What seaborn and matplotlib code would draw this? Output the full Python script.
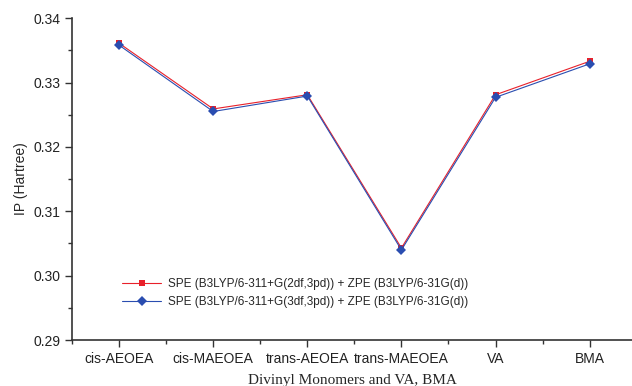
import matplotlib
matplotlib.use("Agg")
import matplotlib.pyplot as plt
from matplotlib.ticker import MultipleLocator, FixedLocator, FormatStrFormatter
import seaborn as sns
import pandas as pd

# data
monomers = ["cis-AEOEA", "cis-MAEOEA", "trans-AEOEA", "trans-MAEOEA", "VA", "BMA"]
ip_2df = [0.3361, 0.3259, 0.3281, 0.3043, 0.3281, 0.3333]
ip_3df = [0.3358, 0.3255, 0.3279, 0.3040, 0.3277, 0.3329]
series_names = [
    "SPE (B3LYP/6-311+G(2df,3pd)) + ZPE (B3LYP/6-31G(d))",
    "SPE (B3LYP/6-311+G(3df,3pd)) + ZPE (B3LYP/6-31G(d))",
]

df = pd.DataFrame({
    "pos": list(range(len(monomers))) * 2,
    "IP": ip_2df + ip_3df,
    "series": [series_names[0]] * len(monomers) + [series_names[1]] * len(monomers),
})

sns.set_style("ticks")
plt.rcParams["font.family"] = ["Liberation Sans", "DejaVu Sans"]

fig = plt.figure(figsize=(6.32, 3.86), dpi=100)
ax = fig.add_axes([0.114, 0.119, 0.886, 0.834])

palette = {series_names[0]: "#e8202a", series_names[1]: "#2a4db0"}
markers = {series_names[0]: "s", series_names[1]: "D"}
sns.lineplot(data=df, x="pos", y="IP", hue="series", style="series",
             palette=palette, markers=markers, dashes=False,
             linewidth=0.8, markersize=5, markeredgewidth=0, ax=ax)

ax.set_xlim(-0.5, 5.45)
ax.set_ylim(0.29, 0.34)
ax.set_xticks(range(len(monomers)))
ax.set_xticklabels(monomers, fontsize=10)
ax.xaxis.set_minor_locator(FixedLocator([i + 0.5 for i in range(-1, 6)]))
ax.yaxis.set_major_locator(MultipleLocator(0.01))
ax.yaxis.set_minor_locator(MultipleLocator(0.005))
ax.yaxis.set_major_formatter(FormatStrFormatter("%.2f"))
ax.tick_params(axis="y", labelsize=10)
ax.tick_params(which="major", length=5, width=1, color="#333333", labelcolor="#222222")
ax.tick_params(which="minor", length=3, width=1, color="#333333")
for s in ["left", "bottom"]:
    ax.spines[s].set_linewidth(1.2)
    ax.spines[s].set_color("#333333")
sns.despine(ax=ax)

ax.set_ylabel("IP (Hartree)", fontsize=10)
ax.set_xlabel("Divinyl Monomers and VA, BMA", fontsize=11,
              family=["Liberation Serif", "DejaVu Serif"], labelpad=6)

ax.legend(loc="lower left", bbox_to_anchor=(0.075, 0.075), frameon=False,
          fontsize=8.5, handlelength=3.3, handletextpad=0.6,
          labelspacing=0.45, borderpad=0.2)

fig.savefig("out.png", dpi=100)
